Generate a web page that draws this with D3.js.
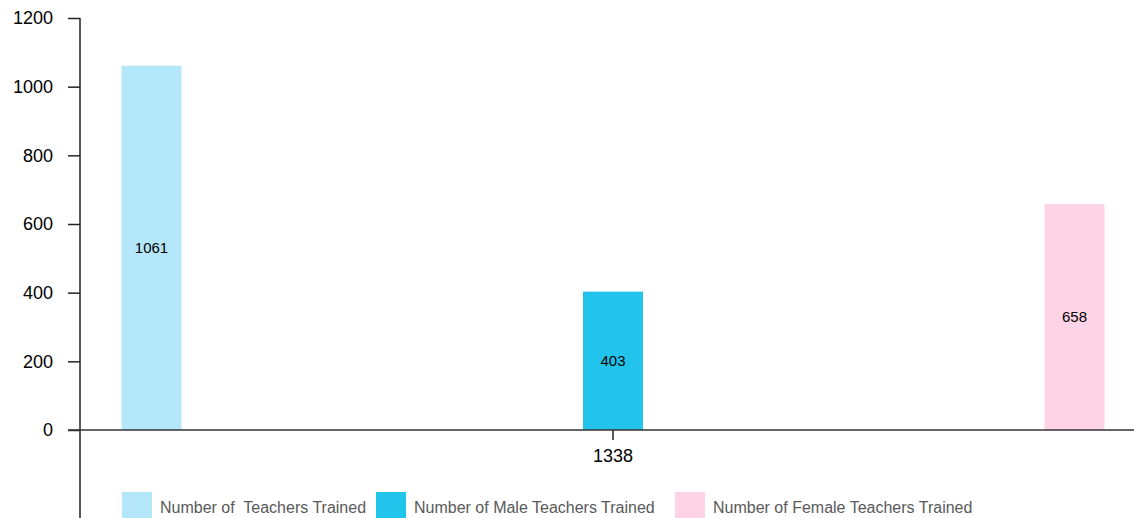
<!DOCTYPE html>
<html>
<head>
<meta charset="utf-8">
<script src="https://cdn.jsdelivr.net/npm/d3@7"></script>
<style>
  body { margin: 0; background: #fff; }
  svg { display: block; font-family: 'Liberation Sans', Arial, sans-serif; }
  .legend text { white-space: pre; }
</style>
</head>
<body>
<div id="chart"></div>
<script>
'use strict';

// Chart data
var categories = ['1338'];
var seriesNames = ['Number of  Teachers Trained', 'Number of Male Teachers Trained', 'Number of Female Teachers Trained'];
var seriesValues = [1061, 403, 658];
var seriesColors = ['#b4e7f9', '#22c4ec', '#ffd3e6'];
var yTicks = [0, 200, 400, 600, 800, 1000, 1200];

// Layout parameters
var width = 1134;
var height = 518;
var plot = {left: 80, right: 1146, top: 18, bottom: 430};
var barWidth = 60;
var groupSpread = 461.5;

var svg = d3.select('#chart').append('svg')
  .attr('width', width)
  .attr('height', height);

var x0 = d3.scaleBand()
  .domain(categories)
  .range([plot.left, plot.right])
  .padding(0);

var x1 = d3.scalePoint()
  .domain(seriesNames)
  .range([-groupSpread, groupSpread]);

var y = d3.scaleLinear()
  .domain([0, 1200])
  .range([plot.bottom, plot.top]);

// Bars
categories.forEach(function(cat) {
  var center = x0(cat) + x0.bandwidth() / 2;
  var g = svg.append('g').attr('class', 'group');
  var rows = seriesNames.map(function(name, i) {
    return {name: name, value: seriesValues[i], color: seriesColors[i]};
  });

  g.selectAll('rect')
    .data(rows)
    .enter().append('rect')
    .attr('x', function(d) { return center + x1(d.name) - barWidth / 2; })
    .attr('y', function(d) { return y(d.value); })
    .attr('width', barWidth)
    .attr('height', function(d) { return y(0) - y(d.value); })
    .attr('fill', function(d) { return d.color; });

  g.selectAll('text')
    .data(rows)
    .enter().append('text')
    .attr('x', function(d) { return center + x1(d.name); })
    .attr('y', function(d) { return (y(d.value) + y(0)) / 2; })
    .attr('dy', '0.35em')
    .attr('text-anchor', 'middle')
    .style('font-size', '15px')
    .style('fill', '#000')
    .text(function(d) { return d.value; });
});

// Y axis
var yAxis = d3.axisLeft(y)
  .tickValues(yTicks)
  .tickFormat(d3.format('d'))
  .tickSize(12)
  .tickPadding(15)
  .tickSizeOuter(0);

var yg = svg.append('g')
  .attr('class', 'y axis')
  .attr('transform', 'translate(' + plot.left + ',0)')
  .call(yAxis);
yg.select('.domain').remove();
yg.selectAll('line').attr('stroke', '#222').attr('stroke-width', 1.5);
yg.selectAll('text').style('font-size', '18px').style('fill', '#000').style('font-family', 'inherit');
yg.append('line')
  .attr('x1', 0).attr('x2', 0)
  .attr('y1', plot.top).attr('y2', height)
  .attr('stroke', '#222').attr('stroke-width', 1.5);

// X axis
var xAxis = d3.axisBottom(x0)
  .tickSize(10)
  .tickPadding(9)
  .tickSizeOuter(0);

var xg = svg.append('g')
  .attr('class', 'x axis')
  .attr('transform', 'translate(0,' + plot.bottom + ')')
  .call(xAxis);
xg.select('.domain').remove();
xg.selectAll('line').attr('stroke', '#222').attr('stroke-width', 1.5);
xg.selectAll('text').style('font-size', '18px').style('fill', '#000').style('font-family', 'inherit');
xg.append('line')
  .attr('x1', plot.left - 12).attr('x2', width)
  .attr('y1', 0).attr('y2', 0)
  .attr('stroke', '#333').attr('stroke-width', 1.5);

// Legend
var legendX = [122, 376, 675];
var legend = svg.append('g').attr('class', 'legend');
var items = legend.selectAll('g')
  .data(seriesNames)
  .enter().append('g')
  .attr('transform', function(d, i) { return 'translate(' + legendX[i] + ',492)'; });
items.append('rect')
  .attr('width', 30)
  .attr('height', 30)
  .attr('fill', function(d, i) { return seriesColors[i]; });
items.append('text')
  .attr('x', 38)
  .attr('y', 15)
  .attr('dy', '0.35em')
  .style('font-size', '16px')
  .style('fill', '#595959')
  .text(function(d) { return d; });
</script>
</body>
</html>
